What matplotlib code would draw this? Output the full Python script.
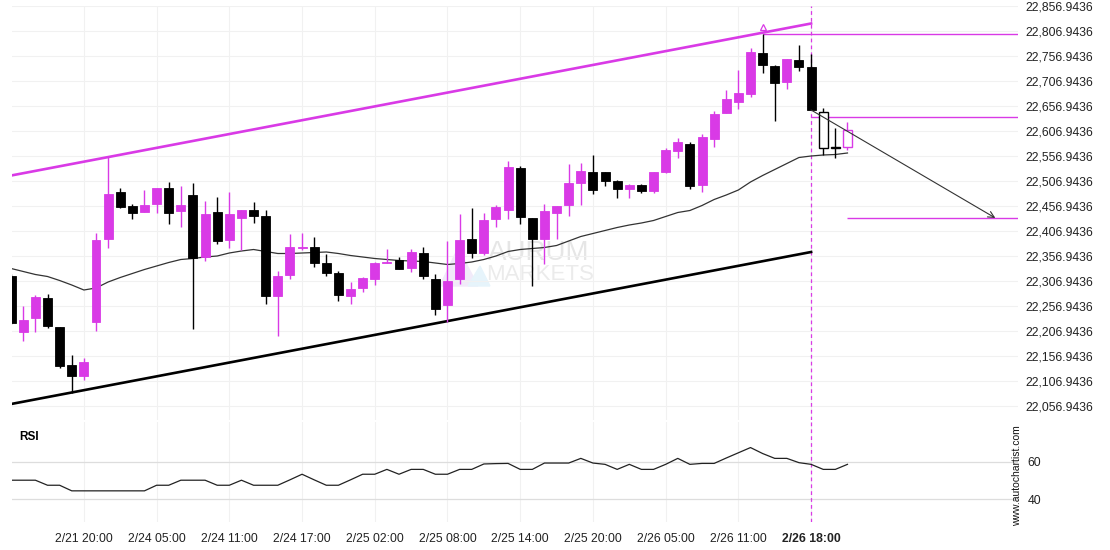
"""
Hourly candlestick chart with ascending channel, SMA and RSI panel.
"""

import matplotlib.pyplot as plt
import numpy as np
from matplotlib.patches import Polygon

plt.rcParams["font.family"] = ["Liberation Sans", "DejaVu Sans"]

# Candles (hourly)
opens = [22316, 22205, 22232, 22272, 22215, 22139, 22116, 22224, 22390, 22484,
         22456, 22444, 22461, 22492, 22447, 22478, 22354, 22444, 22388, 22432,
         22448, 22436, 22276, 22318, 22373, 22374, 22342, 22322, 22276, 22292,
         22310, 22342, 22348, 22332, 22362, 22311, 22258, 22310, 22390, 22362,
         22430, 22448, 22532, 22432, 22390, 22443, 22459, 22503, 22524, 22524,
         22506, 22491, 22498, 22486, 22524, 22566, 22580, 22499, 22590, 22642,
         22665, 22681, 22763, 22737, 22705, 22749, 22735, 22644, 22574, 22575]
highs = [22320, 22256, 22278, 22280, 22215, 22159, 22153, 22402, 22554, 22492,
         22460, 22488, 22492, 22504, 22496, 22502, 22466, 22474, 22484, 22448,
         22464, 22448, 22327, 22400, 22402, 22394, 22360, 22326, 22304, 22314,
         22344, 22370, 22354, 22370, 22374, 22320, 22386, 22440, 22452, 22442,
         22458, 22546, 22536, 22432, 22460, 22457, 22540, 22542, 22558, 22524,
         22509, 22501, 22501, 22524, 22572, 22592, 22584, 22601, 22646, 22688,
         22729, 22773, 22801, 22739, 22751, 22779, 22761, 22652, 22612, 22624]
lows = [22221, 22186, 22205, 22212, 22132, 22082, 22109, 22207, 22372, 22453,
        22430, 22444, 22443, 22420, 22414, 22211, 22346, 22380, 22372, 22368,
        22422, 22261, 22197, 22311, 22368, 22334, 22316, 22267, 22261, 22284,
        22298, 22342, 22330, 22324, 22311, 22239, 22225, 22300, 22353, 22358,
        22414, 22430, 22420, 22297, 22341, 22390, 22437, 22459, 22481, 22497,
        22473, 22473, 22483, 22483, 22522, 22553, 22491, 22485, 22574, 22642,
        22651, 22675, 22723, 22627, 22691, 22727, 22649, 22558, 22552, 22568]
closes = [22223, 22229, 22274, 22217, 22137, 22116, 22145, 22388, 22480, 22454,
          22443, 22458, 22492, 22443, 22458, 22352, 22440, 22386, 22440, 22448,
          22437, 22276, 22316, 22374, 22374, 22342, 22322, 22278, 22290, 22312,
          22342, 22344, 22330, 22364, 22316, 22250, 22306, 22388, 22362, 22428,
          22454, 22534, 22435, 22391, 22447, 22457, 22502, 22526, 22488, 22507,
          22491, 22498, 22486, 22524, 22568, 22584, 22497, 22595, 22640, 22670,
          22683, 22765, 22739, 22703, 22751, 22735, 22649, 22573, 22573, 22608]

# moving average drawn over the candles
sma = [22331, 22325, 22319, 22315, 22307, 22298, 22288, 22292, 22304, 22313,
       22321, 22329, 22336, 22343, 22349, 22351, 22354, 22356, 22362, 22366,
       22369, 22365, 22361, 22361, 22362, 22363, 22364, 22361, 22357, 22354,
       22351, 22349, 22347, 22346, 22345, 22342, 22339, 22341, 22344, 22349,
       22356, 22365, 22369, 22371, 22373, 22377, 22386, 22395, 22401, 22407,
       22413, 22418, 22422, 22427, 22435, 22443, 22447, 22457, 22469, 22478,
       22488, 22504, 22517, 22529, 22541, 22553, 22556, 22558, 22559, 22562]

rsi = [50.1, 50.1, 50.1, 47.4, 47.4, 44.4, 44.4, 44.4, 44.4, 44.4,
       44.4, 44.4, 47.4, 47.4, 50.1, 50.1, 50.1, 47.4, 47.4, 50.1,
       47.4, 47.4, 47.4, 50.3, 53.3, 50.3, 47.4, 47.4, 50.3, 53.3,
       53.3, 55.9, 53.3, 55.9, 55.9, 53.3, 53.3, 55.9, 55.9, 58.8,
       59.0, 59.1, 55.9, 55.9, 59.3, 59.3, 59.3, 61.8, 59.3, 58.6,
       55.9, 58.6, 55.9, 55.9, 58.6, 61.8, 58.6, 59.1, 59.1, 62.0,
       64.8, 67.6, 64.4, 61.8, 61.8, 59.5, 58.6, 55.9, 55.9, 58.6]

tick_bars = [6, 12, 18, 24, 30, 36, 42, 48, 54, 60, 66]
tick_labels = ["2/21 20:00", "2/24 05:00", "2/24 11:00", "2/24 17:00",
               "2/25 02:00", "2/25 08:00", "2/25 14:00", "2/25 20:00",
               "2/26 05:00", "2/26 11:00", "2/26 18:00"]

# pattern: channel lines (bar, price), levels and forecast
channel_top = ([0, 66], [22517, 22821])
channel_bottom = ([0, 66], [22060, 22364])
signal_bar = 66
resistance_bar, resistance = 62, 22801
break_level = 22634
target_bar, target = 69, 22432
forecast_from = (66, 22648)
forecast_to = (81.2, 22432)

MAGENTA = "#d93ae6"
GRID = "#f1f1f1"

x = np.arange(len(opens))
o = np.array(opens)
c = np.array(closes)
up = c >= o
colors = np.where(up, MAGENTA, "black")
live = x > signal_bar

fig = plt.figure(figsize=(11.1, 5.5), dpi=100)
ax = fig.add_axes([12 / 1110, 130 / 550, 1006 / 1110, 414.5 / 550])
rax = fig.add_axes([12 / 1110, 28 / 550, 1006 / 1110, 100 / 550])

x_left, x_right = 0.07, 83.07
for a in (ax, rax):
    a.set_xlim(x_left, x_right)
    for s in a.spines.values():
        s.set_visible(False)
    a.set_xticks(tick_bars)
    for t in tick_bars:
        a.axvline(t, color=GRID, lw=0.8, zorder=0)
    a.axvline(signal_bar, color=MAGENTA, lw=0.9, dashes=(3, 2.5), zorder=1)

# watermark
ax.add_patch(Polygon([[0.4254, 0.3233], [0.4433, 0.415], [0.4632, 0.3233]],
                     closed=True, transform=ax.transAxes, color="#f1eaf9", zorder=0))
ax.add_patch(Polygon([[0.4533, 0.3233], [0.4652, 0.3715], [0.4751, 0.3233]],
                     closed=True, transform=ax.transAxes, color="#e6f4fb", zorder=0))
ax.text(0.5239, 0.404, "AURUM", transform=ax.transAxes, fontsize=20,
        color="#e6e6e6", ha="center", va="center", zorder=0)
ax.text(0.5249, 0.352, "MARKETS", transform=ax.transAxes, fontsize=16,
        color="#ebebeb", ha="center", va="center", zorder=0)

# main price panel
ax.set_ylim(22028, 22857)
price_ticks = np.arange(22056.9436, 22857, 50)
ax.set_yticks(price_ticks)
ax.set_yticklabels([f"{v:,.4f}" for v in price_ticks])
ax.yaxis.tick_right()
ax.tick_params(axis="y", length=0, pad=5, labelsize=8.8, colors="#222222")
ax.tick_params(axis="x", length=0, labelbottom=False)
for v in price_ticks:
    ax.axhline(v, color=GRID, lw=0.8, zorder=0)

ax.plot(x, sma, color="#333333", lw=0.9, zorder=2)

ax.plot(*channel_top, color=MAGENTA, lw=1.9, zorder=3)
ax.plot(*channel_bottom, color="black", lw=1.9, zorder=3)

ax.vlines(x, lows, highs, colors=colors, lw=1.0, zorder=4)
body_bottom = np.minimum(o, c)
body_height = np.abs(c - o)
ax.bar(x[~live], body_height[~live], bottom=body_bottom[~live], width=0.74,
       color=colors[~live], edgecolor=colors[~live], lw=0.6, zorder=5)
ax.bar(x[live], body_height[live], bottom=body_bottom[live], width=0.74,
       color="white", edgecolor=colors[live], lw=1.0, zorder=5)

ax.hlines(resistance, resistance_bar, x_right, color=MAGENTA, lw=1.0, zorder=3)
ax.hlines(break_level, signal_bar, x_right, color=MAGENTA, lw=1.0, zorder=3)
ax.hlines(target, target_bar, x_right, color=MAGENTA, lw=1.0, zorder=3)
ax.plot(resistance_bar, highs[resistance_bar] + 13, marker="^", ms=5,
        mfc="none", mec=MAGENTA, mew=0.9, zorder=6)
ax.annotate("", xy=forecast_to, xytext=forecast_from,
            arrowprops=dict(arrowstyle="->", color="#333333", lw=0.8,
                            shrinkA=0, shrinkB=0, mutation_scale=11),
            zorder=6)

# RSI panel
rax.set_ylim(27.7, 81.3)
rax.set_yticks([40, 60])
rax.yaxis.tick_right()
rax.tick_params(axis="y", length=0, pad=7, labelsize=8.8, colors="#222222")
for v in (40, 60):
    rax.axhline(v, color="#dddddd", lw=0.9, zorder=0)
rax.plot(x, rsi, color="#222222", lw=0.9, zorder=2)
rax.text(0.007, 0.85, "RSI", transform=rax.transAxes, fontsize=8.5,
         fontweight="bold", va="center", ha="left")

rax.set_xticklabels(tick_labels)
rax.tick_params(axis="x", length=0, pad=8, labelsize=8.8, colors="#222222")
rax.get_xticklabels()[-1].set_fontweight("bold")

fig.text(1017.3 / 1110, 1 - 476 / 550, "www.autochartist.com", rotation=90,
         fontsize=7.5, ha="center", va="center", color="#111111")

fig.savefig("out.png", dpi=100, facecolor="white")
